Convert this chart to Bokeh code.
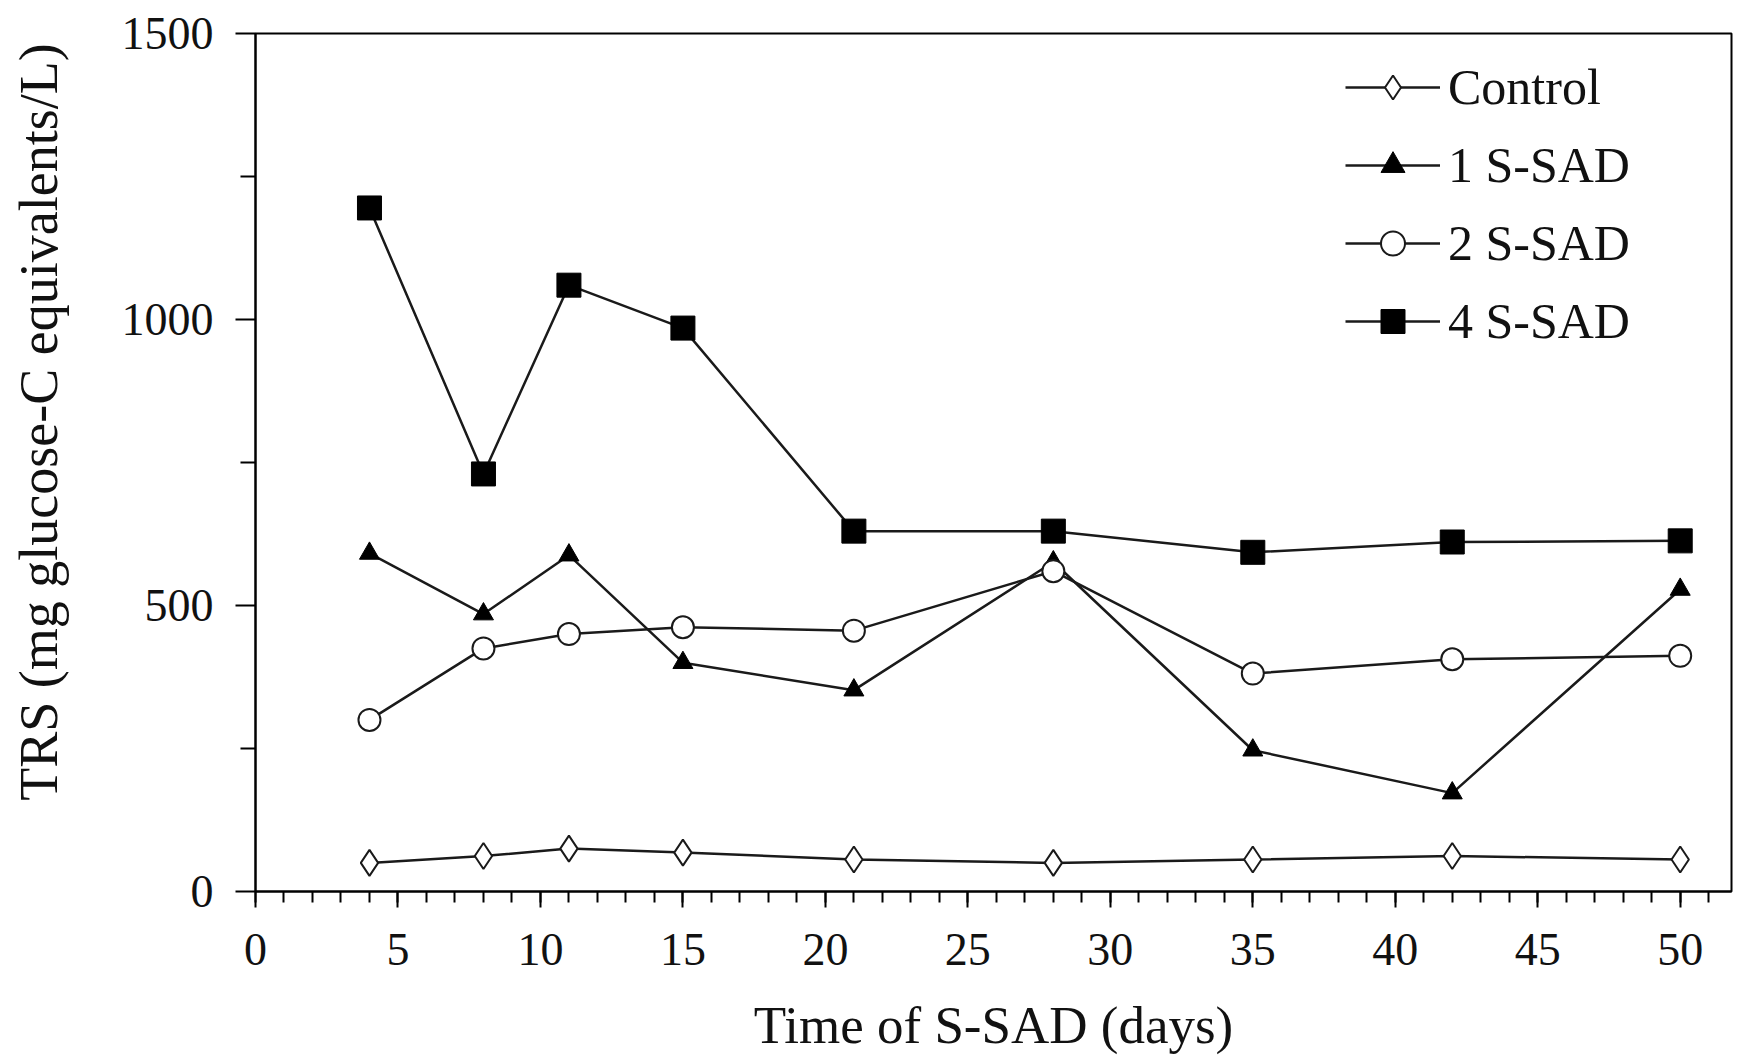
from bokeh.plotting import figure
from bokeh.models import FixedTicker, Legend, LegendItem, Range1d
from bokeh.embed import file_html
from bokeh.resources import INLINE

days = [4, 8, 11, 15, 21, 28, 35, 42, 50]
control = [50, 62, 75, 68, 56, 50, 56, 62, 56]
s1 = [591, 485, 588, 400, 352, 576, 247, 172, 528]
s2 = [300, 425, 450, 462, 456, 560, 381, 406, 412]
s4 = [1195, 730, 1060, 985, 630, 630, 593, 611, 613]

x_major = [0, 5, 10, 15, 20, 25, 30, 35, 40, 45, 50]
x_minor = list(range(0, 52))
y_major = [0, 500, 1000, 1500]
y_minor = [250, 750, 1250]

x_title = "Time of S-SAD (days)"
y_title = "TRS (mg glucose-C equivalents/L)"

FONT = "Liberation Serif"
LC = "#1a1a1a"
NBSP = "\u00a0"

p = figure(width=1738, height=1060, x_range=Range1d(0, 51.8), y_range=Range1d(0, 1500),
           output_backend="svg", toolbar_location=None,
           min_border_left=255, min_border_right=7, min_border_top=33, min_border_bottom=169)
p.xgrid.visible = False
p.ygrid.visible = False
p.outline_line_color = "black"
p.outline_line_width = 2
p.background_fill_color = "white"
p.border_fill_color = "white"

for ax in (p.xaxis[0], p.yaxis[0]):
    ax.axis_line_width = 2
    ax.axis_line_color = "black"
    ax.major_tick_line_width = 2
    ax.minor_tick_line_width = 2
    ax.major_tick_line_color = "black"
    ax.minor_tick_line_color = "black"
    ax.major_tick_in = 0
    ax.minor_tick_in = 0
    ax.major_label_text_font = FONT
    ax.major_label_text_font_size = "46px"
    ax.major_label_text_color = "#111111"
    ax.axis_label_text_font = FONT
    ax.axis_label_text_font_size = "53px"
    ax.axis_label_text_font_style = "normal"
    ax.axis_label_text_color = "#111111"

p.xaxis.ticker = FixedTicker(ticks=x_major, minor_ticks=x_minor)
p.xaxis.major_tick_out = 16
p.xaxis.minor_tick_out = 11
p.xaxis.major_label_standoff = 26
p.xaxis.axis_label = x_title
p.xaxis.axis_label_standoff = 28

p.yaxis.ticker = FixedTicker(ticks=y_major, minor_ticks=y_minor)
p.yaxis.major_tick_out = 20
p.yaxis.minor_tick_out = 15
p.yaxis.major_label_standoff = 22
# leading no-break spaces shift the centred label upward, as in the original
p.yaxis.axis_label = NBSP * 6 + y_title
p.yaxis.axis_label_text_font_size = "54px"
p.yaxis.axis_label_standoff = 50

items = []
l = p.line(days, control, line_color=LC, line_width=2.5)
m = p.scatter(days, control, marker="diamond", size=26, fill_color="white", line_color=LC, line_width=2)
items.append(LegendItem(label="Control", renderers=[l, m]))

l = p.line(days, s1, line_color=LC, line_width=2.5)
m = p.scatter(days, s1, marker="triangle", size=20, fill_color="black", line_color="black", line_width=1)
items.append(LegendItem(label="1 S-SAD", renderers=[l, m]))

l = p.line(days, s2, line_color=LC, line_width=2.5)
m = p.scatter(days, s2, marker="circle", size=22, fill_color="white", line_color=LC, line_width=2)
items.append(LegendItem(label="2 S-SAD", renderers=[l, m]))

l = p.line(days, s4, line_color=LC, line_width=2.5)
m = p.scatter(days, s4, marker="square", size=24, fill_color="black", line_color="black", line_width=1)
items.append(LegendItem(label="4 S-SAD", renderers=[l, m]))

leg = Legend(items=items, location=(1090, 540))
leg.border_line_color = None
leg.background_fill_alpha = 0
leg.padding = 0
leg.margin = 0
leg.glyph_width = 95
leg.glyph_height = 60
leg.label_height = 60
leg.spacing = 18
leg.label_standoff = 8
leg.label_text_font = FONT
leg.label_text_font_size = "50px"
leg.label_text_color = "#111111"
p.add_layout(leg)

open("out.html", "w").write(file_html(p, INLINE))
